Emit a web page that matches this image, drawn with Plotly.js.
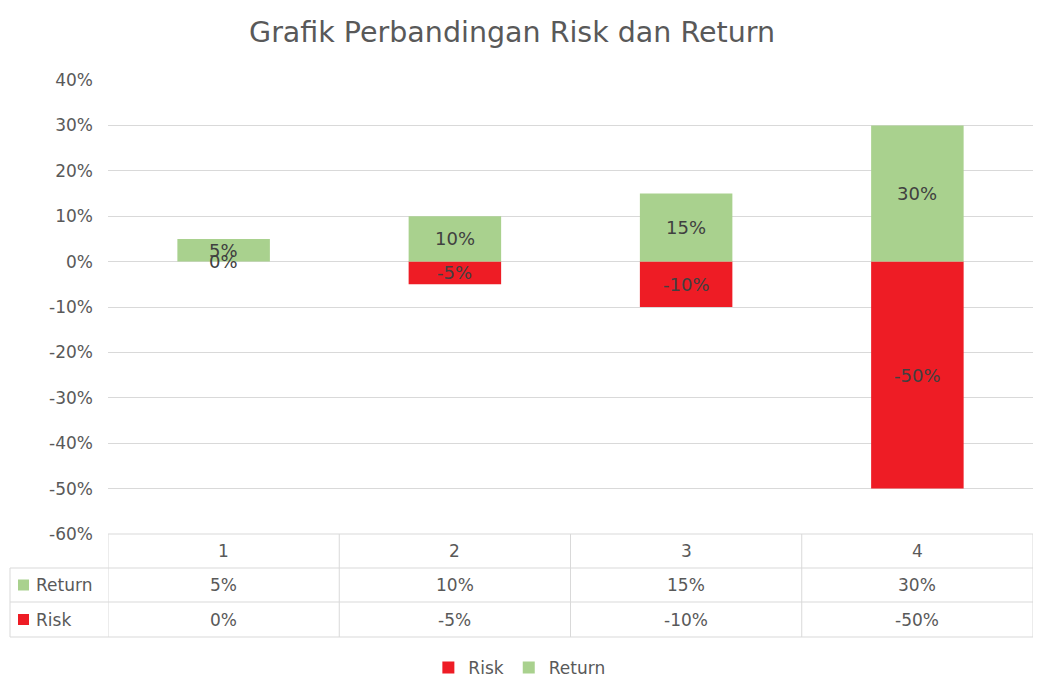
<!DOCTYPE html>
<html>
<head>
<meta charset="utf-8">
<script src="https://cdn.plot.ly/plotly-3.0.1.min.js"></script>
<style>html,body{margin:0;padding:0;background:#fff;}#chart{width:1045px;height:678px;}</style>
</head>
<body>
<div id="chart"></div>
<script>
const categories = [1, 2, 3, 4];
const categoryLabels = ["1", "2", "3", "4"];
const returnValues = [0.05, 0.10, 0.15, 0.30];
const riskValues = [0.00, -0.05, -0.10, -0.50];
const seriesNames = ["Risk", "Return"];
const yTickVals = [-0.6, -0.5, -0.4, -0.3, -0.2, -0.1, 0, 0.1, 0.2, 0.3, 0.4];

const GREEN = "#A9D18E", RED = "#EE1C25", TXT = "#595959", GRID = "#D9D9D9";
const FONT = "DejaVu Sans, Open Sans, sans-serif";
const pct = v => Math.round(v * 100) + "%";

const W = 1045, H = 678;
const M = {l: 108, r: 12, t: 80, b: 144};
const plotW = W - M.l - M.r, plotH = H - M.t - M.b;
const px2paperX = p => (p - M.l) / plotW;
const px2paperY = p => (H - M.b - p) / plotH;

const traces = [
  {type: "bar", name: seriesNames[0], x: categories, y: riskValues, marker: {color: RED}, hoverinfo: "none"},
  {type: "bar", name: seriesNames[1], x: categories, y: returnValues, marker: {color: GREEN}, hoverinfo: "none"}
];

const annotations = [];
const lblFont = {size: 18, color: "#404040", family: FONT};
categories.forEach((c, i) => {
  annotations.push({x: c, y: returnValues[i] / 2, xref: "x", yref: "y", xanchor: "center", yanchor: "middle", text: pct(returnValues[i]), showarrow: false, font: lblFont});
  annotations.push({x: c, y: riskValues[i] / 2, xref: "x", yref: "y", xanchor: "center", yanchor: "middle", text: pct(riskValues[i]), showarrow: false, font: lblFont});
});

const tblFont = {size: 17, color: TXT, family: FONT};
const rowTop = 534, rowH = [34, 34, 35];
const rowY = [rowTop, rowTop + rowH[0], rowTop + rowH[0] + rowH[1], rowTop + rowH[0] + rowH[1] + rowH[2]];
const rowMid = [0, 1, 2].map(r => (rowY[r] + rowY[r + 1]) / 2);
const cell = (x, xref, text, mid, xanchor) => ({x, y: px2paperY(mid), xref, yref: "paper", xanchor: xanchor || "center", yanchor: "middle", text, showarrow: false, font: tblFont});
categories.forEach((c, i) => {
  annotations.push(cell(c, "x", categoryLabels[i], rowMid[0]));
  annotations.push(cell(c, "x", pct(returnValues[i]), rowMid[1]));
  annotations.push(cell(c, "x", pct(riskValues[i]), rowMid[2]));
});
annotations.push(cell(px2paperX(34), "paper", seriesNames[1], rowMid[1], "left"));
annotations.push(cell(px2paperX(34), "paper", seriesNames[0], rowMid[2], "left"));

const shapes = [];
const line = {color: GRID, width: 1};
shapes.push({type: "line", xref: "paper", yref: "paper", x0: 0, x1: 1, y0: px2paperY(rowY[0]), y1: px2paperY(rowY[0]), line});
[1, 2, 3].forEach(r => shapes.push({type: "line", xref: "paper", yref: "paper", x0: px2paperX(10), x1: 1, y0: px2paperY(rowY[r]), y1: px2paperY(rowY[r]), line}));
[0.5, 1.5, 2.5, 3.5, 4.5].forEach(b => shapes.push({type: "line", xref: "x", yref: "paper", x0: b, x1: b, y0: px2paperY(rowY[0]), y1: px2paperY(rowY[3]), line}));
shapes.push({type: "line", xref: "paper", yref: "paper", x0: px2paperX(10), x1: px2paperX(10), y0: px2paperY(rowY[1]), y1: px2paperY(rowY[3]), line});
const key = (color, mid) => ({type: "rect", xref: "paper", yref: "paper", x0: px2paperX(18), x1: px2paperX(29), y0: px2paperY(mid - 5.5), y1: px2paperY(mid + 5.5), fillcolor: color, line: {width: 0}});
shapes.push(key(GREEN, rowMid[1]));
shapes.push(key(RED, rowMid[2]));

const layout = {
  width: W, height: H,
  margin: M,
  paper_bgcolor: "#fff", plot_bgcolor: "#fff",
  font: {family: FONT, color: TXT, size: 16},
  title: {text: "Grafik Perbandingan Risk dan Return", x: 0.49, xref: "container", xanchor: "center", y: 0.953, yref: "container", yanchor: "middle", font: {size: 28.5, color: TXT, family: FONT}},
  barmode: "relative",
  bargap: 0.6,
  showlegend: true,
  legend: {orientation: "h", xref: "container", yref: "container", x: 0.497, xanchor: "center", y: 0.015, yanchor: "middle", font: {size: 17, color: TXT, family: FONT}, traceorder: "normal", itemwidth: 30},
  xaxis: {range: [0.5, 4.5], showticklabels: false, showgrid: false, zeroline: false, fixedrange: true, showline: false, ticks: ""},
  yaxis: {range: [-0.6, 0.4], tickvals: yTickVals, ticktext: yTickVals.map(pct), showgrid: true, gridcolor: GRID, gridwidth: 1, zeroline: true, zerolinecolor: GRID, zerolinewidth: 1, ticks: "", ticklabelstandoff: 14, tickfont: {size: 17, color: TXT, family: FONT}, showline: false},
  annotations, shapes
};

Plotly.newPlot("chart", traces, layout, {displayModeBar: false, staticPlot: true});
</script>
</body>
</html>
